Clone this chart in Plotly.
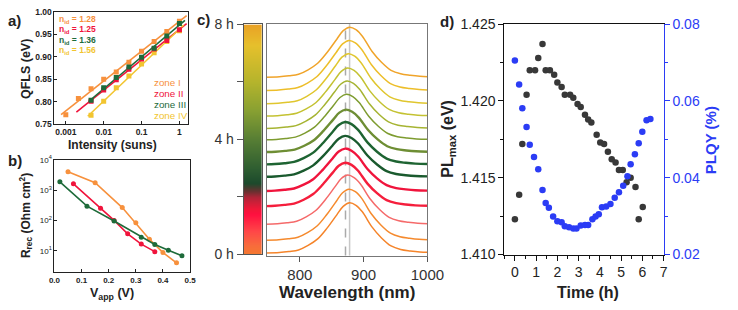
import plotly.graph_objects as go
import numpy as np

W, H = 738, 310
FONT = "Liberation Sans, Arial, sans-serif"

# ---------------- Panel a data ----------------
INTENSITY = [0.001, 0.00215, 0.00464, 0.01, 0.0215, 0.0464, 0.1, 0.215, 0.464, 1.0]
QFLS_I = [0.771, 0.807, 0.829, 0.850, 0.866, 0.888, 0.912, 0.934, 0.956, 0.979]
QFLS_II = [0.801, 0.826, 0.849, 0.872, 0.895, 0.917, 0.936, 0.960]
QFLS_III = [0.803, 0.831, 0.854, 0.877, 0.899, 0.919, 0.946, 0.974]
QFLS_IV = [0.770, 0.801, 0.831, 0.857, 0.884, 0.909, 0.934, 0.958]
FIT_RANGE_I = [0.00075, 1.55]
FIT_RANGE_II = [0.0019, 1.55]
FIT_RANGE_III = [0.0040, 1.40]
FIT_RANGE_IV = [0.0038, 1.30]
NID = ["1.28", "1.25", "1.36", "1.56"]
ZONES = ["zone I", "zone II", "zone III", "zone IV"]

# ---------------- Panel b data ----------------
V_I = [0.05, 0.15, 0.25, 0.30, 0.35, 0.40, 0.45]
R_I = [4000, 1750, 265, 83, 24, 8.7, 4.0]
V_II = [0.07, 0.17, 0.22, 0.27, 0.32, 0.37]
R_II = [1600, 250, 100, 36, 16.5, 9.3]
V_III = [0.02, 0.12, 0.22, 0.32, 0.37, 0.42, 0.47]
R_III = [1870, 295, 95, 28, 16, 10.3, 6.8]

# ---------------- Panel c data ----------------
PROFILE_DX = [-135, -110, -95, -80, -65, -50, -35, -20, -10, 0, 10, 20, 35, 50, 65, 80, 95, 110, 135]
PROFILE_Y = [0.0, 0.01, 0.03, 0.06, 0.15, 0.28, 0.50, 0.76, 0.93, 1.0, 0.95, 0.82, 0.52, 0.30, 0.14, 0.07, 0.04, 0.02, 0.01]
PEAK_NM = [878, 877, 875, 871, 871, 871, 871, 872, 873, 874, 875, 876, 877, 878]
PEAK_H = [0.98, 1.0, 0.96, 0.85, 0.83, 0.80, 0.83, 0.83, 0.89, 0.93, 0.94, 0.98, 0.98, 0.98]
OFFSET = [0, 0.246, 0.561, 0.913, 1.209, 1.487, 1.728, 1.969, 2.209, 2.431, 2.672, 2.913, 3.172, 3.431]
SPEC_COLORS = ["#F5842A", "#F58A2E", "#F56A6A", "#F51E3C", "#F0143C", "#1A5A2E", "#1E6432",
               "#6E8E34", "#7E9C30", "#A6B432", "#C4C232", "#E0C62E", "#EDBE2A", "#F0A42A"]
NOISY = [False, False, False, True, True, True, True, True, False, False, False, False, False, False]
CB_TIMES = [0, 8]
CB_SCALE = [[0.0, "#F47A30"], [0.04, "#F86C3C"], [0.10, "#FF4848"], [0.175, "#FF1040"],
            [0.20, "#F01838"], [0.25, "#B02538"], [0.275, "#6B3030"], [0.31, "#1C4A2C"],
            [0.375, "#2F5E31"], [0.5, "#577E34"], [0.625, "#88A032"], [0.75, "#B5B42C"],
            [0.91, "#E6C02C"], [1.0, "#E9A226"]]
DASH_NM = 871.6
SOLID_NM = 878

# ---------------- Panel d data ----------------
T_PL = [0, 0.2, 0.35, 0.55, 0.7, 0.95, 1.1, 1.3, 1.45, 1.65, 1.85, 2.0, 2.2, 2.35, 2.6, 2.75,
        2.95, 3.1, 3.3, 3.45, 3.6, 3.85, 4.02, 4.2, 4.38, 4.56, 4.74, 4.9, 5.08, 5.26, 5.45,
        5.68, 5.83, 6.02]
PL_MAX = [1.4123, 1.4139, 1.4172, 1.4204, 1.4220, 1.4220, 1.4228, 1.4237, 1.4220, 1.4220,
          1.4217, 1.4212, 1.4209, 1.4204, 1.4204, 1.4202, 1.4198, 1.4196, 1.4191, 1.4188,
          1.4186, 1.4178, 1.4173, 1.4172, 1.4167, 1.4162, 1.4160, 1.4155, 1.4155, 1.4147,
          1.4150, 1.4144, 1.4123, 1.4131]
T_QY = [0, 0.2, 0.35, 0.55, 0.7, 0.9, 1.1, 1.3, 1.45, 1.6, 1.8, 2.0, 2.2, 2.35, 2.55, 2.75,
        2.9, 3.1, 3.3, 3.45, 3.65, 3.8, 3.95, 4.1, 4.3, 4.5, 4.7, 4.9, 5.1, 5.3, 5.45, 5.65,
        5.83, 6.0, 6.2, 6.38]
PLQY = [0.0705, 0.0643, 0.0581, 0.0532, 0.0486, 0.0454, 0.0422, 0.0368, 0.0334, 0.0322,
        0.0299, 0.0287, 0.0284, 0.0274, 0.0271, 0.0268, 0.0268, 0.0276, 0.0277, 0.0277,
        0.0292, 0.0299, 0.0305, 0.0323, 0.0325, 0.0332, 0.0348, 0.0362, 0.0379, 0.0404,
        0.0435, 0.0461, 0.0490, 0.0520, 0.0550, 0.0553]

ORANGE, RED, GREEN, YELLOW = "#F7913D", "#F0143C", "#1E6B3A", "#F2C530"
BLUE = "#2B3CF5"


def px(x):
    return x / W


def py(y):
    return 1 - y / H


def dom_x(a, b):
    return [px(a), px(b)]


def dom_y(top, bottom):
    return [py(bottom), py(top)]


fig = go.Figure()

# ---------- panel a ----------
zone_data = [
    (INTENSITY, QFLS_I, FIT_RANGE_I, ORANGE),
    (INTENSITY[2:], QFLS_II, FIT_RANGE_II, RED),
    (INTENSITY[2:], QFLS_III, FIT_RANGE_III, GREEN),
    (INTENSITY[2:], QFLS_IV, FIT_RANGE_IV, YELLOW),
]
for xs, ys, fr, col in zone_data:
    k, b = np.polyfit(np.log10(xs), ys, 1)
    fx = np.array(fr)
    fy = k * np.log10(fx) + b
    fig.add_trace(go.Scatter(x=fx, y=fy, mode="lines", line=dict(color=col, width=1.6),
                             xaxis="x", yaxis="y", showlegend=False))
for xs, ys, fr, col in [zone_data[0], zone_data[3], zone_data[1], zone_data[2]]:
    fig.add_trace(go.Scatter(x=xs, y=ys, mode="markers",
                             marker=dict(color=col, size=5, symbol="square"),
                             xaxis="x", yaxis="y", showlegend=False))

# ---------- panel b ----------
for vs, rs, col in [(V_I, R_I, ORANGE), (V_II, R_II, RED), (V_III, R_III, GREEN)]:
    fig.add_trace(go.Scatter(x=vs, y=rs, mode="lines+markers",
                             line=dict(color=col, width=1.6),
                             marker=dict(color=col, size=5),
                             xaxis="x2", yaxis="y2", showlegend=False))

# ---------- panel c colorbar ----------
fig.add_trace(go.Heatmap(z=[[CB_TIMES[0], CB_TIMES[0]], [CB_TIMES[1], CB_TIMES[1]]],
                         x=[0, 1], y=CB_TIMES, zmin=0, zmax=8, colorscale=CB_SCALE,
                         zsmooth="best", showscale=False, xaxis="x3", yaxis="y3",
                         hoverinfo="skip"))

# ---------- panel c spectra ----------
for i in range(len(PEAK_NM)):
    xs = [PEAK_NM[i] + d for d in PROFILE_DX]
    ys = [OFFSET[i] + PEAK_H[i] * v for v in PROFILE_Y]
    fig.add_trace(go.Scatter(x=xs, y=ys, mode="lines",
                             line=dict(color=SPEC_COLORS[i], width=2.4 if NOISY[i] else 1.5,
                                       shape="spline", smoothing=1.0),
                             xaxis="x4", yaxis="y4", showlegend=False))

# ---------- panel d ----------
fig.add_trace(go.Scatter(x=T_PL, y=PL_MAX, mode="markers",
                         marker=dict(color="#383838", size=6.5),
                         xaxis="x5", yaxis="y5", showlegend=False))
fig.add_trace(go.Scatter(x=T_QY, y=PLQY, mode="markers",
                         marker=dict(color=BLUE, size=6.5),
                         xaxis="x5", yaxis="y6", showlegend=False))

small_bold = dict(family=FONT, size=8.5, color="#222", weight="bold")
axis_common = dict(showline=True, linecolor="#222", linewidth=1, mirror=True,
                   showgrid=False, zeroline=False, ticks="inside", ticklen=3,
                   tickcolor="#222")

fig.update_layout(
    width=W, height=H, margin=dict(l=0, r=0, t=0, b=0), autosize=False,
    paper_bgcolor="white", plot_bgcolor="white",
    font=dict(family=FONT, color="#222"),
    xaxis=dict(domain=dom_x(50, 188), anchor="y", type="log",
               range=[-3.3, 0.23], tickvals=[0.001, 0.01, 0.1, 1],
               ticktext=["0.001", "0.01", "0.1", "1"], tickfont=small_bold, **axis_common),
    yaxis=dict(domain=dom_y(4, 122.5), anchor="x", range=[0.75, 1.0],
               tickvals=[0.75, 0.8, 0.85, 0.9, 0.95, 1.0],
               ticktext=["0.75", "0.80", "0.85", "0.90", "0.95", "1.00"],
               tickfont=small_bold, **axis_common),
    xaxis2=dict(domain=dom_x(50, 190), anchor="y2", range=[0, 0.5],
                tickvals=[0, 0.1, 0.2, 0.3, 0.4, 0.5],
                ticktext=["0.0", "0.1", "0.2", "0.3", "0.4", "0.5"],
                tickfont=dict(family=FONT, size=8, color="#222", weight="bold"), **axis_common),
    yaxis2=dict(domain=dom_y(160, 278.3), anchor="x2", type="log", range=[0.3, 4.0],
                tickvals=[10, 100, 1000, 10000],
                ticktext=["10<sup>1</sup>", "10<sup>2</sup>", "10<sup>3</sup>", "10<sup>4</sup>"],
                tickfont=dict(family=FONT, size=8, color="#222"), **axis_common),
    xaxis3=dict(domain=dom_x(245.3, 264.3), anchor="y3", range=[0, 1], showticklabels=False,
                showline=True, linecolor="#555", mirror=True, ticks="", showgrid=False,
                zeroline=False),
    yaxis3=dict(domain=dom_y(17.3, 259.5), anchor="x3", range=[0, 8],
                tickvals=[0, 4, 8], ticktext=["0 h", "4 h", "8 h"],
                tickfont=dict(family=FONT, size=14, color="#333"),
                showline=True, linecolor="#555", mirror=True, ticks="outside", ticklen=6,
                tickcolor="#555", showgrid=False, zeroline=False,
                minor=dict(ticks="outside", ticklen=6, dtick=2, tickcolor="#555")),
    xaxis4=dict(domain=dom_x(269, 435), anchor="y4", range=[748, 1000],
                tickvals=[800, 900, 1000], tickfont=dict(family=FONT, size=15, color="#333"),
                showline=True, linecolor="#777", mirror=True, ticks="outside", ticklen=5,
                tickcolor="#555", showgrid=False, zeroline=False),
    yaxis4=dict(domain=dom_y(17, 261), anchor="x4", range=[-0.05, 4.47], showticklabels=False,
                showline=True, linecolor="#777", mirror=True, ticks="", showgrid=False,
                zeroline=False),
    xaxis5=dict(domain=dom_x(514.3, 678.7), anchor="y5", range=[-0.5, 7],
                tickvals=[0, 1, 2, 3, 4, 5, 6, 7],
                tickfont=dict(family=FONT, size=14, color="#222"),
                showline=True, linecolor="#111", mirror=True, ticks="outside", ticklen=5,
                tickcolor="#111", showgrid=False, zeroline=False,
                minor=dict(ticks="outside", ticklen=3, dtick=0.5, tickcolor="#111")),
    yaxis5=dict(domain=dom_y(17, 260), anchor="x5", range=[1.410, 1.425],
                tickvals=[1.410, 1.415, 1.420, 1.425],
                ticktext=["1.410", "1.415", "1.420", "1.425"],
                tickfont=dict(family=FONT, size=14, color="#222"),
                showline=True, linecolor="#111", mirror=False, ticks="outside", ticklen=5,
                tickcolor="#111", showgrid=False, zeroline=False,
                minor=dict(ticks="outside", ticklen=3, dtick=0.0025, tickcolor="#111")),
    yaxis6=dict(overlaying="y5", side="right", anchor="x5", range=[0.02, 0.08],
                tickvals=[0.02, 0.04, 0.06, 0.08],
                ticktext=["0.02", "0.04", "0.06", "0.08"],
                tickfont=dict(family=FONT, size=14, color=BLUE),
                showline=True, linecolor=BLUE, linewidth=1.2, ticks="outside", ticklen=5,
                tickcolor=BLUE, showgrid=False, zeroline=False,
                minor=dict(ticks="outside", ticklen=3, dtick=0.01, tickcolor=BLUE)),
)

# vertical guide lines in panel c
fig.add_shape(type="line", xref="x4", yref="paper", x0=DASH_NM, x1=DASH_NM,
              y0=py(261), y1=py(17), line=dict(color="#AAAAAA", width=1.5, dash="dash"),
              layer="below")
fig.add_shape(type="line", xref="x4", yref="paper", x0=SOLID_NM, x1=SOLID_NM,
              y0=py(261), y1=py(17), line=dict(color="#C8C8C8", width=1.5), layer="below")

ann = []


def text(x, y, s, size, color="#222", bold=True, xanchor="center", yanchor="middle",
         angle=0):
    ann.append(dict(x=px(x), y=py(y), xref="paper", yref="paper", text=s, showarrow=False,
                    xanchor=xanchor, yanchor=yanchor, textangle=angle, borderpad=0,
                    borderwidth=0,
                    font=dict(family=FONT, size=size, color=color,
                              weight="bold" if bold else "normal")))


# panel labels
text(9, 13, "a)", 15)
text(9, 161, "b)", 15)
text(204, 12, "c)", 15)
text(455, 14, "d)", 15)

# panel a texts
cols = [ORANGE, RED, GREEN, YELLOW]
for i, (n, c) in enumerate(zip(NID, cols)):
    text(55, 12 + i * 11, "n<sub>id</sub> = " + n, 8.5, color=c, xanchor="left")
for i, (z, c) in enumerate(zip(ZONES, cols)):
    text(153, 79 + i * 11.5, z, 9.8, color=c, bold=False, xanchor="left")
text(20, 64, "QFLS (eV)", 12.5, angle=-90)
text(110, 144, "Intensity (suns)", 12)

# panel b texts
text(20, 219, "R<sub>rec</sub> (Ohm cm<sup>2</sup>)", 12, angle=-90)
text(109, 310, "V<sub>app</sub> (V)", 12.5, yanchor="bottom")

# panel c
text(352, 310, "Wavelength (nm)", 17, yanchor="bottom")

# panel d
text(457, 138, "PL<sub>max</sub> (eV)", 16, angle=-90)
text(727, 139, "PLQY (%)", 15, color=BLUE, angle=-90)
text(601, 300, "Time (h)", 16)

fig.update_layout(annotations=ann)
fig.write_html("out.html")
